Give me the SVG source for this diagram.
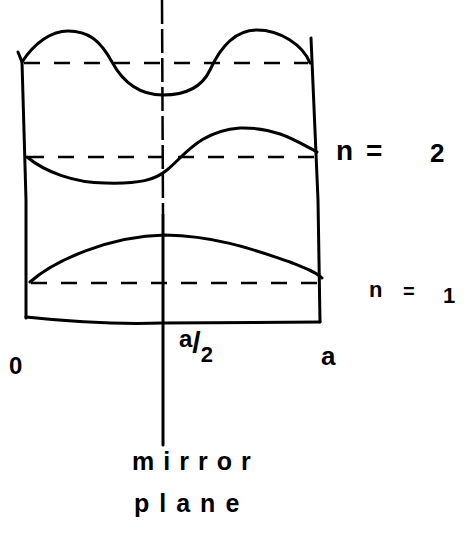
<svg xmlns="http://www.w3.org/2000/svg" width="466" height="551" viewBox="0 0 466 551">
<style>
.ln{fill:none;stroke:#000;stroke-width:3;stroke-linecap:round;stroke-linejoin:round}
.ds{fill:none;stroke:#000;stroke-width:2.5;stroke-dasharray:16 14}
.t{font-family:"Liberation Sans","DejaVu Sans",sans-serif;fill:#000;font-weight:bold}
</style>
<rect width="466" height="551" fill="#fff"/>
<g id="box">
<path class="ln" d="M18,52 L22,62 L26,200 L26,318"/>
<path class="ln" d="M311,38 L318,200 L320,322"/>
<path class="ln" d="M26,317 Q100,325 163,323 L320,322"/>
</g>
<g id="mirror">
<path fill="none" stroke="#000" stroke-width="2.5" stroke-dasharray="24 5" d="M162,0 L163,215"/>
<path class="ln" stroke-width="2.5" d="M163,215 L163,445"/>
</g>
<g id="levels">
<path class="ds" d="M24,63 L308,63"/>
<path class="ds" d="M28,157 L316,157"/>
<path class="ds" d="M31,283 L320,283"/>
</g>
<g id="waves">
<path class="ln" d="M22,62 C35,42 52,31 68,31 C88,31 100,40 112,62 C124,84 140,95 163,95 C185,95 202,87 210,70 C220,48 235,30 257,30 C280,30 303,45 310,63"/>
<path class="ln" d="M27,157 C45,172 75,183 105,183 C140,184 155,180 167,170 C185,155 200,131 240,128 C275,127 295,140 317,152"/>
<path class="ln" d="M30,282 C55,260 110,236 165,235 C220,236 260,252 290,262 C305,268 316,272 322,278"/>
</g>
<g id="labels">
<text class="t" x="336" y="160" font-size="28">n</text>
<text class="t" x="366" y="160" font-size="28">=</text>
<text class="t" x="430" y="162" font-size="26">2</text>
<text class="t" x="369" y="297" font-size="22">n</text>
<text class="t" x="403" y="298" font-size="20">=</text>
<text class="t" x="443" y="303" font-size="22">1</text>
<text class="t" x="9" y="374" font-size="24">0</text>
<text class="t" x="179" y="347" font-size="24">a<tspan dx="0" dy="6" font-size="30">/</tspan><tspan dx="0" dy="9" font-size="22">2</tspan></text>
<text class="t" x="321" y="365" font-size="26">a</text>
<text class="t" x="132" y="470" font-size="25" letter-spacing="9">mirror</text>
<text class="t" x="134" y="512" font-size="25" letter-spacing="10">plane</text>
</g>
</svg>
